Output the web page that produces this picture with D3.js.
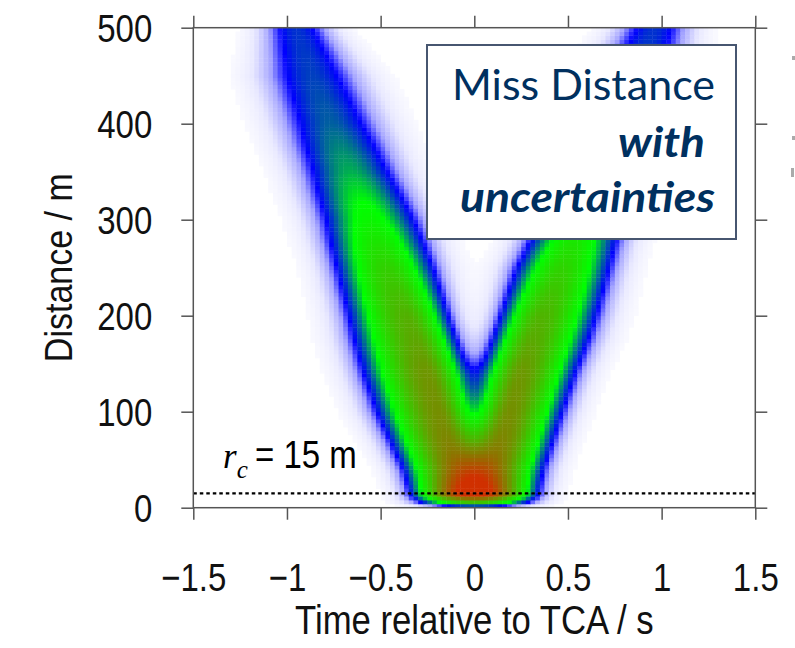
<!DOCTYPE html>
<html>
<head>
<meta charset="utf-8">
<script src="https://cdnjs.cloudflare.com/ajax/libs/d3/7.8.5/d3.min.js"></script>
<style>
  body { margin: 0; background: #fff; }
  svg { display: block; }
</style>
</head>
<body>
<div id="chart"></div>
<script>
const distLevels     = [2, 6, 15, 40, 70, 100, 140, 175, 200, 250, 300, 350, 400, 450, 500];
// left arm (approach): centre time (s), spread on outer / inner side (s), peak density
const leftCenter     = [-0.10, -0.09, -0.09, -0.11, -0.15, -0.19, -0.25, -0.31, -0.36, -0.465, -0.555, -0.66, -0.765, -0.865, -0.95];
const leftSpreadOut  = [0.14, 0.15, 0.141, 0.152, 0.169, 0.1875, 0.195, 0.196, 0.187, 0.175, 0.18, 0.184, 0.19, 0.185, 0.13];
const leftSpreadIn   = [0.15, 0.15, 0.15, 0.1266, 0.1113, 0.1086, 0.1226, 0.1274, 0.134, 0.16, 0.175, 0.18, 0.19, 0.185, 0.13];
const leftPeak       = [0.12, 0.30, 0.68, 0.68, 0.68, 0.66, 0.64, 0.58, 0.55, 0.45, 0.33, 0.25, 0.20, 0.18, 0.17];
// right arm (departure)
const rightCenter    = [0.10, 0.09, 0.09, 0.11, 0.15, 0.19, 0.25, 0.31, 0.36, 0.47, 0.57, 0.66, 0.76, 0.86, 0.96];
const rightSpreadOut = [0.14, 0.15, 0.141, 0.146, 0.152, 0.159, 0.166, 0.178, 0.177, 0.165, 0.16, 0.167, 0.19, 0.18, 0.14];
const rightSpreadIn  = [0.15, 0.15, 0.15, 0.1266, 0.1113, 0.1086, 0.1226, 0.1274, 0.134, 0.16, 0.16, 0.167, 0.19, 0.18, 0.14];
const rightPeak      = [0.12, 0.30, 0.68, 0.68, 0.68, 0.66, 0.63, 0.57, 0.54, 0.44, 0.33, 0.25, 0.20, 0.18, 0.17];

// colour stops of the density palette
const densityStops  = [0, 0.04, 0.09, 0.14, 0.30, 0.62, 1.0];
const densityColors = ["#ffffff", "#e8e8ff", "#a4a4ff", "#0000ff", "#00ff00", "#6a9a00", "#d03000"];

const xTicks = [-1.5, -1, -0.5, 0, 0.5, 1, 1.5];
const yTicks = [0, 100, 200, 300, 400, 500];
const criticalRadius = 15;

const timeBin = 0.025, distBin = 4;

const W = 795, H = 648;
const svg = d3.select("#chart").append("svg")
    .attr("width", W).attr("height", H);

svg.append("rect").attr("width", W).attr("height", H).attr("fill", "#fff");

const x = d3.scaleLinear().domain([-1.5, 1.5]).range([193.3, 755.3]);
const y = d3.scaleLinear().domain([0, 500]).range([507.7, 27.7]);

const color = d3.scaleLinear().domain(densityStops).range(densityColors)
    .interpolate(d3.interpolateRgb).clamp(true);

// per-row arm parameters, linear between the rows
const arm = arr => d3.scaleLinear().domain(distLevels).range(arr).clamp(true);
const lc = arm(leftCenter), lso = arm(leftSpreadOut), lsi = arm(leftSpreadIn), lp = arm(leftPeak);
const rc = arm(rightCenter), rso = arm(rightSpreadOut), rsi = arm(rightSpreadIn), rp = arm(rightPeak);

function gauss(t, c, s) {
    const u = (t - c) / s;
    return Math.exp(-u * u / 2);
}

function density(t, d) {
    const left = lp(d) * gauss(t, lc(d), t < lc(d) ? lso(d) : lsi(d));
    const right = rp(d) * gauss(t, rc(d), t > rc(d) ? rso(d) : rsi(d));
    return Math.min(1, left + right);
}

// build histogram cells
const cells = [];
const nRows = Math.round(500 / distBin), nCols = Math.round(3 / timeBin);
for (let i = 0; i < nRows; i++) {
    const d0 = i * distBin;
    for (let j = 0; j < nCols; j++) {
        const t0 = -1.5 + j * timeBin;
        const v = density(t0 + timeBin / 2, d0 + distBin / 2);
        if (v > 0.01) cells.push({t0, d0, v});
    }
}

const plot = svg.append("g");
plot.selectAll("rect.cell")
    .data(cells)
    .join("rect")
    .attr("class", "cell")
    .attr("x", d => x(d.t0))
    .attr("y", d => y(d.d0 + distBin))
    .attr("width", d => x(d.t0 + timeBin) - x(d.t0) + 0.4)
    .attr("height", d => y(d.d0) - y(d.d0 + distBin) + 0.4)
    .attr("fill", d => color(d.v));

// r_c dotted line
plot.append("line")
    .attr("x1", x(-1.5)).attr("x2", x(1.5))
    .attr("y1", y(criticalRadius)).attr("y2", y(criticalRadius))
    .attr("stroke", "#000").attr("stroke-width", 2.2)
    .attr("stroke-dasharray", "3.5,3");

const sansFont = "'Liberation Sans', Arial, Helvetica, sans-serif";

// squeeze a text horizontally so it keeps the width it has at a smaller size
function narrow(sel, ratio) {
    sel.each(function () {
        const w = this.getComputedTextLength();
        d3.select(this).attr("textLength", w * ratio).attr("lengthAdjust", "spacingAndGlyphs");
    });
}

// r_c label
const rcLabel = svg.append("text")
    .attr("x", 223).attr("y", 468)
    .attr("fill", "#000")
    .attr("font-family", "'Liberation Serif', 'DejaVu Serif', serif")
    .attr("font-style", "italic");
rcLabel.append("tspan").attr("font-size", 35).text("r");
rcLabel.append("tspan").attr("font-size", 25).attr("dy", 10).text("c");

svg.append("text")
    .attr("x", 255).attr("y", 468)
    .attr("font-family", sansFont).attr("font-size", 38).attr("fill", "#000")
    .text("= 15 m")
    .call(narrow, 33 / 38);

// frame and ticks
const axisColor = "#555";
const fmt = d3.format("~g");

function styleAxis(g) {
    g.select(".domain").remove();
    g.selectAll(".tick line").attr("stroke", axisColor).attr("stroke-width", 1.5);
    g.attr("font-family", sansFont).attr("font-size", 39);
    g.selectAll(".tick text").attr("fill", "#111").call(narrow, 33 / 39);
}

svg.append("g")
    .attr("transform", `translate(0,${y(0)})`)
    .call(d3.axisBottom(x).tickValues(xTicks).tickSize(12).tickPadding(44).tickFormat(fmt))
    .call(styleAxis);

svg.append("g")
    .attr("transform", `translate(0,${y(500)})`)
    .call(d3.axisTop(x).tickValues(xTicks).tickSize(12).tickFormat(""))
    .call(styleAxis);

svg.append("g")
    .attr("transform", `translate(${x(-1.5)},0)`)
    .call(d3.axisLeft(y).tickValues(yTicks).tickSize(12).tickPadding(29).tickFormat(fmt))
    .call(styleAxis)
    .selectAll(".tick text").attr("dy", "0.36em");

svg.append("g")
    .attr("transform", `translate(${x(1.5)},0)`)
    .call(d3.axisRight(y).tickValues(yTicks).tickSize(12).tickFormat(""))
    .call(styleAxis);

svg.append("rect")
    .attr("x", x(-1.5)).attr("y", y(500))
    .attr("width", x(1.5) - x(-1.5)).attr("height", y(0) - y(500))
    .attr("fill", "none").attr("stroke", axisColor).attr("stroke-width", 1.5);

// axis titles
svg.append("text")
    .attr("x", (x(-1.5) + x(1.5)) / 2).attr("y", 634)
    .attr("text-anchor", "middle")
    .attr("font-family", sansFont).attr("font-size", 40).attr("fill", "#111")
    .text("Time relative to TCA / s")
    .call(narrow, 34 / 40 * 1.02);

svg.append("text")
    .attr("transform", `translate(72,${(y(0) + y(500)) / 2}) rotate(-90)`)
    .attr("text-anchor", "middle")
    .attr("font-family", sansFont).attr("font-size", 38).attr("fill", "#111")
    .text("Distance / m")
    .call(narrow, 34 / 38);

// annotation box
const box = svg.append("g");
box.append("rect")
    .attr("x", 427).attr("y", 45).attr("width", 309).attr("height", 194)
    .attr("fill", "#fff").attr("stroke", "#475670").attr("stroke-width", 2);

const boxFont = "Lato, Carlito, 'Open Sans', sans-serif";
const navy = "#00305f";
box.append("text")
    .attr("x", 715).attr("y", 100).attr("text-anchor", "end")
    .attr("font-family", boxFont).attr("font-size", 42).attr("fill", navy)
    .attr("textLength", 263).attr("lengthAdjust", "spacingAndGlyphs")
    .text("Miss Distance");
box.append("text")
    .attr("x", 705).attr("y", 157).attr("text-anchor", "end")
    .attr("font-family", boxFont).attr("font-size", 42).attr("fill", navy)
    .attr("font-weight", "bold").attr("font-style", "italic")
    .attr("textLength", 87).attr("lengthAdjust", "spacingAndGlyphs")
    .text("with");
box.append("text")
    .attr("x", 715).attr("y", 212).attr("text-anchor", "end")
    .attr("font-family", boxFont).attr("font-size", 42).attr("fill", navy)
    .attr("font-weight", "bold").attr("font-style", "italic")
    .attr("textLength", 255).attr("lengthAdjust", "spacingAndGlyphs")
    .text("uncertainties");

// clipped fragments of neighbouring slide text at the right edge
[[792, 56, 3, 4], [792, 136, 3, 4], [791, 168, 3, 9]].forEach(r => {
    svg.append("rect").attr("x", r[0]).attr("y", r[1])
        .attr("width", r[2]).attr("height", r[3]).attr("fill", "#aaa");
});
</script>
</body>
</html>
